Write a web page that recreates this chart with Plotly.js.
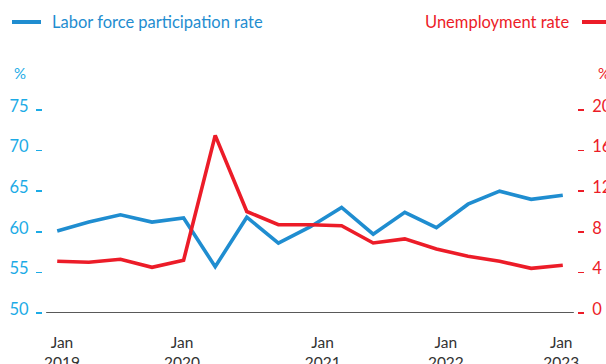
<!DOCTYPE html>
<html>
<head>
<meta charset="utf-8">
<script src="https://cdn.plot.ly/plotly-3.0.1.min.js"></script>
<style>
html,body{margin:0;padding:0;background:#fff;}
#chart{width:606px;height:364px;}
</style>
</head>
<body>
<div id="chart"></div>
<script>
// Quarterly periods, Jan 2019 – Jan 2023
var periods = ["Jan 2019","Apr 2019","Jul 2019","Oct 2019","Jan 2020","Apr 2020","Jul 2020","Oct 2020",
               "Jan 2021","Apr 2021","Jul 2021","Oct 2021","Jan 2022","Apr 2022","Jul 2022","Oct 2022","Jan 2023"];
var participationRate = [60.1, 61.2, 62.1, 61.2, 61.7, 55.7, 61.8, 58.6, 60.6, 63.0, 59.7, 62.4, 60.5, 63.4, 65.0, 64.0, 64.5];
var unemploymentRate  = [5.1, 5.0, 5.3, 4.5, 5.2, 17.5, 10.0, 8.7, 8.7, 8.6, 6.9, 7.3, 6.3, 5.6, 5.1, 4.4, 4.7];
var xTickLabels = ["Jan<br>2019","Jan<br>2020","Jan<br>2021","Jan<br>2022","Jan<br>2023"];
var leftTicks = [50, 55, 60, 65, 70, 75];
var rightTicks = [0, 4, 8, 12, 16, 20];

var idx = periods.map(function(_, i){ return i; });

var BLUE = "#1f8dd0";
var CYAN = "#1cabe6";
var RED = "#ec1c28";
var FONT = "Lato, 'Open Sans', sans-serif";

var traces = [
  {x: idx, y: participationRate, type: "scatter", mode: "lines", name: "Labor force participation rate",
   line: {color: BLUE, width: 3.6}, yaxis: "y", hoverinfo: "skip"},
  {x: idx, y: unemploymentRate, type: "scatter", mode: "lines", name: "Unemployment rate",
   line: {color: RED, width: 3.6}, yaxis: "y2", hoverinfo: "skip"}
];

var layout = {
  width: 606, height: 364,
  margin: {l: 43, r: 29, t: 110, b: 51, pad: 0},
  paper_bgcolor: "#fff", plot_bgcolor: "#fff",
  showlegend: false,
  font: {family: FONT, size: 15, color: "#333"},
  xaxis: {
    range: [-0.45, 16.45],
    tickmode: "array",
    tickvals: [0.15, 3.95, 8.4, 12.3, 15.95],
    ticktext: xTickLabels,
    ticks: "", showgrid: false, zeroline: false, showline: false,
    tickfont: {family: FONT, size: 15.5, color: "#333"},
    ticklabelstandoff: 18
  },
  yaxis: {
    range: [50, 75],
    tickmode: "array", tickvals: leftTicks, ticktext: leftTicks.map(String),
    ticks: "outside", ticklen: 6, tickwidth: 1.5, tickcolor: CYAN,
    showgrid: false, zeroline: false, showline: false,
    tickfont: {family: FONT, size: 16.5, color: CYAN},
    ticklabelshift: -4,
    ticklabelstandoff: 4
  },
  yaxis2: {
    range: [0, 20], overlaying: "y", side: "right",
    tickmode: "array", tickvals: rightTicks, ticktext: rightTicks.map(String),
    ticks: "outside", ticklen: 6, tickwidth: 1.5, tickcolor: RED,
    showgrid: false, zeroline: false, showline: false,
    tickfont: {family: FONT, size: 16.5, color: RED},
    ticklabelshift: -4,
    ticklabelstandoff: 5
  },
  shapes: [
    {type: "line", xref: "x", yref: "y", x0: -0.35, x1: 16.35, y0: 50, y1: 50,
     line: {color: "#222", width: 1.5}},
    {type: "line", xref: "paper", yref: "paper", xsizemode: "pixel", xanchor: 0, ysizemode: "pixel", yanchor: 1,
     x0: -31, x1: -2, y0: 88, y1: 88, line: {color: BLUE, width: 4}},
    {type: "line", xref: "paper", yref: "paper", xsizemode: "pixel", xanchor: 1, ysizemode: "pixel", yanchor: 1,
     x0: 5, x1: 35, y0: 88, y1: 88, line: {color: RED, width: 4}}
  ],
  annotations: [
    {xref: "paper", yref: "paper", x: 0, y: 1, xshift: 7, yshift: 88, xanchor: "left", yanchor: "middle",
     text: "Labor force participation rate", showarrow: false,
     font: {family: FONT, size: 16.5, color: BLUE}},
    {xref: "paper", yref: "paper", x: 1, y: 1, xshift: -6, yshift: 88, xanchor: "right", yanchor: "middle",
     text: "Unemployment rate", showarrow: false,
     font: {family: FONT, size: 16.5, color: RED}},
    {xref: "paper", yref: "paper", x: 0, y: 1, xshift: -31, yshift: 37, xanchor: "left", yanchor: "middle",
     text: "%", showarrow: false, font: {family: FONT, size: 15, color: CYAN}},
    {xref: "paper", yref: "paper", x: 1, y: 1, xshift: 19, yshift: 37, xanchor: "left", yanchor: "middle",
     text: "%", showarrow: false, font: {family: FONT, size: 15, color: RED}}
  ]
};

Plotly.newPlot("chart", traces, layout, {staticPlot: true, displayModeBar: false});
</script>
</body>
</html>
